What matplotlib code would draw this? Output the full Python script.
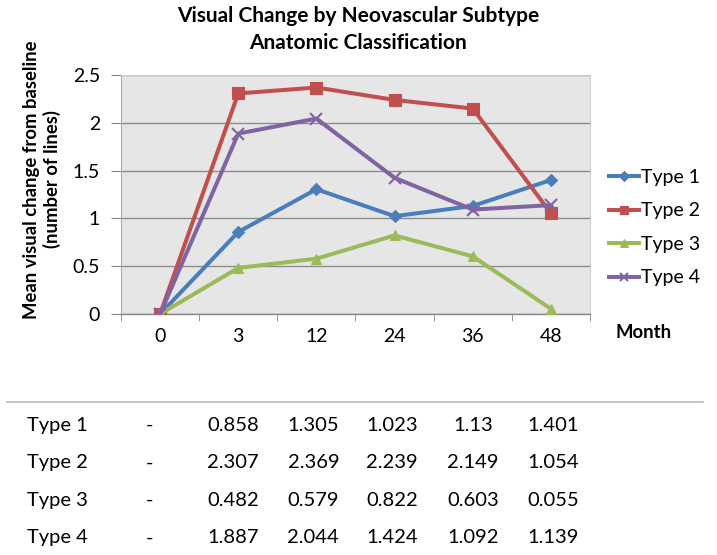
import matplotlib
matplotlib.use("Agg")
import matplotlib.pyplot as plt
import numpy as np

plt.rcParams['font.family'] = ['Lato', 'DejaVu Sans']

months = ['0', '3', '12', '24', '36', '48']
series_names = ['Type 1', 'Type 2', 'Type 3', 'Type 4']
type1 = [0, 0.858, 1.305, 1.023, 1.13, 1.401]
type2 = [0, 2.307, 2.369, 2.239, 2.149, 1.054]
type3 = [0, 0.482, 0.579, 0.822, 0.603, 0.055]
type4 = [0, 1.887, 2.044, 1.424, 1.092, 1.139]
table_text1 = ['0.858', '1.305', '1.023', '1.13', '1.401']
table_text2 = ['2.307', '2.369', '2.239', '2.149', '1.054']
table_text3 = ['0.482', '0.579', '0.822', '0.603', '0.055']
table_text4 = ['1.887', '2.044', '1.424', '1.092', '1.139']

colors = ['#4A7EBB', '#C0504D', '#9BBB59', '#8064A2']
markers = ['D', 's', '^', 'x']
msizes = [6, 8, 7, 8]

fig = plt.figure(figsize=(7.17, 5.55), dpi=100)
ax = fig.add_axes([0.1688, 0.4342, 0.654, 0.4307])
ax.set_facecolor('#E6E6E6')

x = np.arange(len(months))
for vals, name, c, m, ms in zip([type1, type2, type3, type4], series_names, colors, markers, msizes):
    ax.plot(x, vals, color=c, lw=2.9, marker=m, markersize=ms, label=name,
            markeredgewidth=1.5 if m == 'x' else 0.8, markeredgecolor=c, zorder=3)

ax.set_xlim(-0.5, len(months) - 0.5)
ax.set_ylim(0, 2.5)
ax.set_yticks([0, 0.5, 1, 1.5, 2, 2.5])
ax.set_yticklabels(['0', '0.5', '1', '1.5', '2', '2.5'], fontsize=14)
ax.set_xticks(x)
ax.set_xticklabels(months, fontsize=14)
ax.set_xticks(np.arange(-0.5, len(months), 1), minor=True)
ax.tick_params(axis='x', which='major', length=0, pad=10)
ax.tick_params(axis='x', which='minor', length=5, color='#888888', direction='out')
ax.tick_params(axis='y', length=7, color='#888888', pad=8)
ax.yaxis.grid(True, color='#8C8C8C', lw=1.0)
ax.set_axisbelow(True)
for s in ['top', 'right']:
    ax.spines[s].set_color('#CCCCCC')
ax.spines['left'].set_color('#AAAAAA')
ax.spines['bottom'].set_color('#888888')
ax.spines['bottom'].set_linewidth(1.0)

fig.text(0.499, 0.971, 'Visual Change by Neovascular Subtype', ha='center', va='center',
         fontsize=15, fontweight='bold')
fig.text(0.499, 0.923, 'Anatomic Classification', ha='center', va='center',
         fontsize=15, fontweight='bold')
fig.text(0.059, 0.677, 'Mean visual change from baseline\n(number of lines)', rotation=90,
         ha='center', va='center', fontsize=13.3, fontweight='bold', linespacing=1.2)

leg = ax.legend(loc='upper left', bbox_to_anchor=(1.025, 0.64), frameon=False, fontsize=14,
                handlelength=1.5, handletextpad=0.1, labelspacing=0.85, borderaxespad=0,
                markerscale=0.8)
fig.text(0.898, 0.400, 'Month', ha='center', va='center', fontsize=13.3, fontweight='bold')

# table
fig.add_artist(plt.Line2D([0.010, 0.981], [0.2757, 0.2757], color='#BBBBBB', lw=1.2))
row_y = [0.234, 0.166, 0.099, 0.031]
col_x = [0.325, 0.437, 0.547, 0.660, 0.771]
for ry, name, tt in zip(row_y, series_names, [table_text1, table_text2, table_text3, table_text4]):
    fig.text(0.038, ry, name, ha='left', va='center', fontsize=14.5)
    fig.text(0.209, ry, '-', ha='center', va='center', fontsize=14.5)
    for cx, t in zip(col_x, tt):
        fig.text(cx, ry, t, ha='center', va='center', fontsize=14.5)

fig.savefig('out.png', dpi=100)
